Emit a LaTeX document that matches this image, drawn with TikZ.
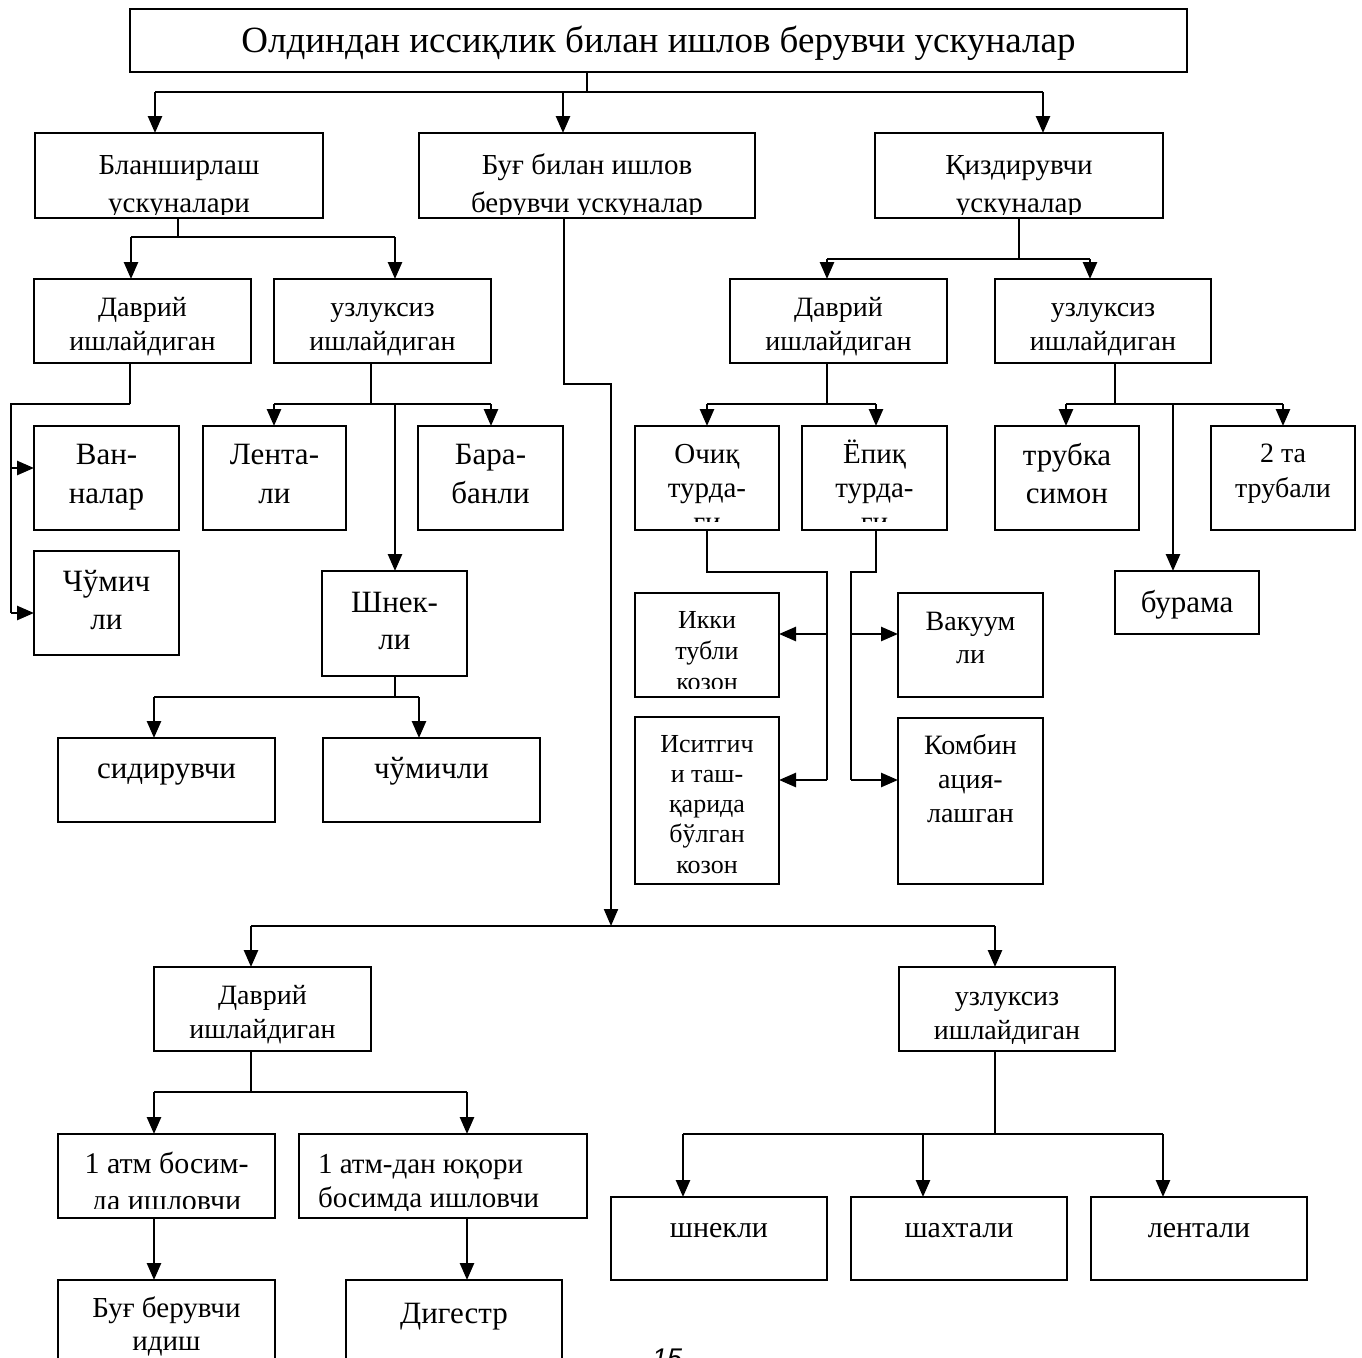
\documentclass[tikz,border=0pt]{standalone}
\usepackage{fontspec}
\setmainfont{Liberation Serif}
\newfontfamily\pnfont{Liberation Sans}
\usetikzlibrary{arrows.meta}
\tikzset{
  bx/.style={draw, line width=1.9pt, rectangle, inner sep=0pt, outer sep=0pt, anchor=north west},
  stem/.style={line width=1.8pt},
  br/.style={line width=2.6pt},
  tipA/.style={-{Triangle[length=17pt,width=14pt]}},
  arr/.style={line width=2.6pt, tipA},
}
% #1 name, #2 x, #3 y, #4 w, #5 h, #6 {size}{leading}, #7 first baseline offset, #8 text, #9 bottom clip inset
\newcommand\bx[9]{%
  \node[bx, minimum width=#4pt, minimum height=#5pt,
    path picture={
      \clip (path picture bounding box.north west) rectangle ([yshift=#9pt]path picture bounding box.south east);
      \node[anchor=base, inner sep=0pt] at ([xshift=#4pt/2, yshift=-#7pt]path picture bounding box.north west)
        {\parbox[t]{#4pt}{\centering\fontsize#6\selectfont #8}};
    }] (#1) at (#2,#3) {};}
\begin{document}
\begin{tikzpicture}[x=1pt,y=-1pt]
\useasboundingbox (0,0) rectangle (1362,1357);
\clip (0,0) rectangle (1362,1357);

% ---------- boxes ----------
\bx{top}{130}{9}{1057}{63}{{37}{44}}{43}{Олдиндан иссиқлик билан ишлов берувчи ускуналар}{4}
\bx{blansh}{35}{133}{288}{85}{{29}{38}}{41}{Бланширлаш\\ускуналари}{4}
\bx{bug}{419}{133}{336}{85}{{29}{38}}{41}{Буғ билан ишлов\\берувчи ускуналар}{4}
\bx{qizd}{875}{133}{288}{85}{{29}{38}}{41}{Қиздирувчи\\ускуналар}{4}

\bx{davr1}{34}{279}{217}{84}{{28}{34}}{37}{Даврий\\ишлайдиган}{8}
\bx{uzl1}{274}{279}{217}{84}{{28}{34}}{37}{узлуксиз\\ишлайдиган}{8}
\bx{vanna}{34}{426}{145}{104}{{31}{39}}{38}{Ван-\\налар}{8}
\bx{chumich}{34}{551}{145}{104}{{31}{38}}{40}{Чўмич\\ли}{8}
\bx{lenta}{203}{426}{143}{104}{{31}{39}}{38}{Лента-\\ли}{8}
\bx{bara}{418}{426}{145}{104}{{31}{39}}{38}{Бара-\\банли}{8}
\bx{shnek}{322}{571}{145}{105}{{31}{37}}{41}{Шнек-\\ли}{8}
\bx{sidir}{58}{738}{217}{84}{{31}{37}}{40}{сидирувчи}{8}
\bx{chumli}{323}{738}{217}{84}{{31}{37}}{40}{чўмичли}{8}

\bx{davr2}{730}{279}{217}{84}{{28}{34}}{37}{Даврий\\ишлайдиган}{8}
\bx{uzl2}{995}{279}{216}{84}{{28}{34}}{37}{узлуксиз\\ишлайдиган}{8}
\bx{ochiq}{635}{426}{144}{104}{{29}{34}}{37}{Очиқ\\турда-\\ги}{9}
\bx{yopiq}{802}{426}{145}{104}{{29}{34}}{37}{Ёпиқ\\турда-\\ги}{9}
\bx{trubka}{995}{426}{144}{104}{{31}{38}}{39}{трубка\\симон}{8}
\bx{ikkita}{1211}{426}{144}{104}{{28}{35}}{36}{2 та\\трубали}{8}
\bx{burama}{1115}{571}{144}{63}{{31}{37}}{41}{бурама}{4}
\bx{ikki}{635}{593}{144}{104}{{26}{31}}{35}{Икки\\тубли\\козон}{9}
\bx{isit}{635}{717}{144}{167}{{26}{30.3}}{35}{Иситгич\\и таш-\\қарида\\бўлган\\козон}{4}
\bx{vakuum}{898}{593}{145}{104}{{28}{33}}{37}{Вакуум\\ли}{8}
\bx{kombin}{898}{718}{145}{166}{{28}{34}}{36}{Комбин\\ация-\\лашган}{8}

\bx{davr3}{154}{967}{217}{84}{{28}{34}}{37}{Даврий\\ишлайдиган}{8}
\bx{uzl3}{899}{967}{216}{84}{{28}{34}}{38}{узлуксиз\\ишлайдиган}{8}
\bx{atm1}{58}{1134}{217}{84}{{30}{37}}{39}{1 атм босим-\\да ишловчи}{10}
\bx{atm2}{299}{1134}{288}{84}{{29}{34}}{39}{\leftskip=19pt\rightskip=0pt plus 1fil\relax 1 атм-дан юқори\\босимда ишловчи}{8}
\bx{bugber}{58}{1280}{217}{120}{{29}{33}}{37}{Буғ берувчи\\идиш}{8}
\bx{digestr}{346}{1280}{216}{120}{{31}{37}}{43}{Дигестр}{8}
\bx{shnekli}{611}{1197}{216}{83}{{30}{36}}{40}{шнекли}{8}
\bx{shakh}{851}{1197}{216}{83}{{30}{36}}{40}{шахтали}{8}
\bx{lentali}{1091}{1197}{216}{83}{{30}{36}}{40}{лентали}{8}

\node[font=\pnfont\itshape\fontsize{27}{30}\selectfont, anchor=base west, inner sep=0pt] (pg) at (652,1367) {15};

% ---------- connectors ----------
% top level
\coordinate (t0) at (587,92); \coordinate (tL) at (155,92);
\coordinate (tM) at (563,92); \coordinate (tR) at (1043,92);
\draw[stem] (top.south -| t0) -- (t0);
\draw[br] (tL) -- (tR);
\draw[arr] (tL) -- (blansh.north -| tL);
\draw[arr] (tM) -- (bug.north -| tM);
\draw[arr] (tR) -- (qizd.north -| tR);

% Бланширлаш
\coordinate (b0) at (178,237); \coordinate (bL) at (131,237); \coordinate (bR) at (395,237);
\draw[stem] (blansh.south -| b0) -- (b0);
\draw[br] (bL) -- (bR);
\draw[arr] (bL) -- (davr1.north -| bL);
\draw[arr] (bR) -- (uzl1.north -| bR);

% Даврий (left)
\coordinate (d0) at (130,404); \coordinate (dL) at (11,404);
\coordinate (dA) at (11,468); \coordinate (dB) at (11,613);
\draw[stem] (davr1.south -| d0) -- (d0);
\draw[br] (d0) -- (dL) -- (dB);
\draw[arr] (dA) -- (vanna.west |- dA);
\draw[arr] (dB) -- (chumich.west |- dB);

% узлуксиз (left)
\coordinate (u0) at (371,404); \coordinate (uL) at (274,404);
\coordinate (uM) at (395,404); \coordinate (uR) at (491,404);
\draw[stem] (uzl1.south -| u0) -- (u0);
\draw[br] (uL) -- (uR);
\draw[arr] (uL) -- (lenta.north -| uL);
\draw[arr] (uM) -- (shnek.north -| uM);
\draw[arr] (uR) -- (bara.north -| uR);

% Шнекли
\coordinate (s0) at (395,697); \coordinate (sL) at (154,697); \coordinate (sR) at (419,697);
\draw[stem] (shnek.south -| s0) -- (s0);
\draw[br] (sL) -- (sR);
\draw[arr] (sL) -- (sidir.north -| sL);
\draw[arr] (sR) -- (chumli.north -| sR);

% Буғ
\coordinate (g1) at (564,384); \coordinate (g2) at (611,384); \coordinate (g3) at (611,926);
\draw[stem, line width=2pt, tipA] (bug.south -| g1) -- (g1) -- (g2) -- (g3);
\coordinate (gL) at (251,926); \coordinate (gR) at (995,926);
\draw[br] (gL) -- (gR);
\draw[arr] (gL) -- (davr3.north -| gL);
\draw[arr] (gR) -- (uzl3.north -| gR);

% Қиздирувчи
\coordinate (q0) at (1019,259); \coordinate (qL) at (827,259); \coordinate (qR) at (1090,259);
\draw[stem] (qizd.south -| q0) -- (q0);
\draw[br] (qL) -- (qR);
\draw[arr] (qL) -- (davr2.north -| qL);
\draw[arr] (qR) -- (uzl2.north -| qR);

% Даврий (right)
\coordinate (e0) at (827,404); \coordinate (eL) at (707,404); \coordinate (eR) at (876,404);
\draw[stem] (davr2.south -| e0) -- (e0);
\draw[br] (eL) -- (eR);
\draw[arr] (eL) -- (ochiq.north -| eL);
\draw[arr] (eR) -- (yopiq.north -| eR);

% узлуксиз (right)
\coordinate (f0) at (1115,404); \coordinate (fL) at (1066,404);
\coordinate (fM) at (1173,404); \coordinate (fR) at (1283,404);
\draw[stem] (uzl2.south -| f0) -- (f0);
\draw[br] (fL) -- (fR);
\draw[arr] (fL) -- (trubka.north -| fL);
\draw[arr] (fM) -- (burama.north -| fM);
\draw[arr] (fR) -- (ikkita.north -| fR);

% Очиқ
\coordinate (o1) at (707,572); \coordinate (o2) at (827,572);
\coordinate (oA) at (827,634); \coordinate (oB) at (827,780);
\draw[stem] (ochiq.south -| o1) -- (o1) -- (o2) -- (oB);
\draw[arr] (oA) -- (ikki.east |- oA);
\draw[arr] (oB) -- (isit.east |- oB);

% Ёпиқ
\coordinate (p1) at (876,572); \coordinate (p2) at (851,572);
\coordinate (pA) at (851,634); \coordinate (pB) at (851,780);
\draw[stem] (yopiq.south -| p1) -- (p1) -- (p2) -- (pB);
\draw[arr] (pA) -- (vakuum.west |- pA);
\draw[arr] (pB) -- (kombin.west |- pB);

% Даврий (bottom)
\coordinate (h0) at (251,1092); \coordinate (hL) at (154,1092); \coordinate (hR) at (467,1092);
\draw[stem] (davr3.south -| h0) -- (h0);
\draw[br] (hL) -- (hR);
\draw[arr] (hL) -- (atm1.north -| hL);
\draw[arr] (hR) -- (atm2.north -| hR);
\draw[arr] (atm1.south -| hL) -- (bugber.north -| hL);
\draw[arr] (atm2.south -| hR) -- (digestr.north -| hR);

% узлуксиз (bottom)
\coordinate (k0) at (995,1134); \coordinate (kL) at (683,1134);
\coordinate (kM) at (923,1134); \coordinate (kR) at (1163,1134);
\draw[stem] (uzl3.south -| k0) -- (k0);
\draw[br] (kL) -- (kR);
\draw[arr] (kL) -- (shnekli.north -| kL);
\draw[arr] (kM) -- (shakh.north -| kM);
\draw[arr] (kR) -- (lentali.north -| kR);
\end{tikzpicture}
\end{document}
